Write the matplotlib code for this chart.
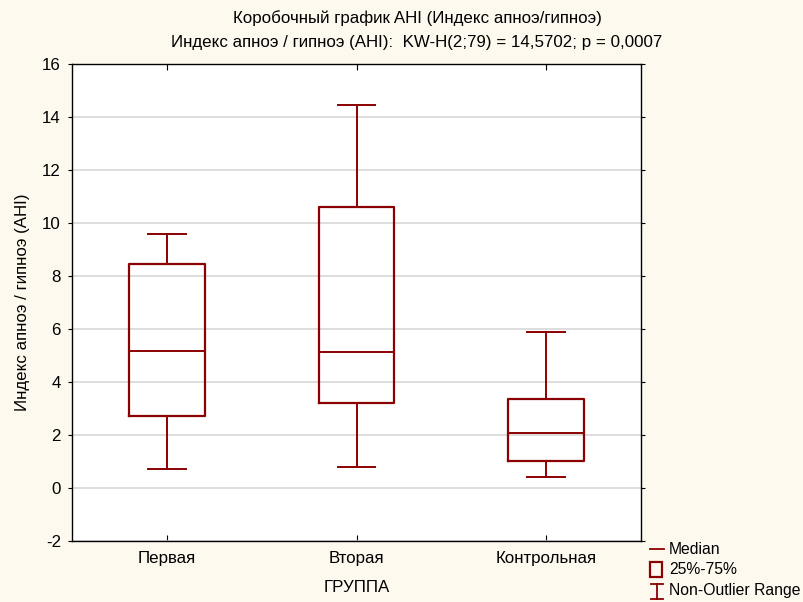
import matplotlib
matplotlib.use("Agg")
import matplotlib.pyplot as plt
from matplotlib.lines import Line2D
from matplotlib.patches import Rectangle

plt.rcParams['font.family'] = ['Liberation Sans', 'DejaVu Sans']

categories = ["Первая", "Вторая", "Контрольная"]
medians = [5.18, 5.12, 2.08]
q1 = [2.72, 3.20, 1.02]
q3 = [8.45, 10.62, 3.36]
whisker_low = [0.70, 0.79, 0.40]
whisker_high = [9.58, 14.45, 5.88]
yticks = [-2, 0, 2, 4, 6, 8, 10, 12, 14, 16]

title1 = "Коробочный график AHI (Индекс апноэ/гипноэ)"
title2 = "Индекс апноэ / гипноэ (AHI):  KW-H(2;79) = 14,5702; p = 0,0007"

RED = "#8B0000"
BG = "#FDF9EF"
FS = 12.2

W, H = 804, 602
fig = plt.figure(figsize=(W / 100, H / 100), dpi=100, facecolor=BG)
ax = fig.add_axes([72 / W, 1 - 541 / H, (641 - 72) / W, (541 - 64) / H])
ax.set_facecolor("white")

stats = []
for i, c in enumerate(categories):
    stats.append(dict(label=c, med=medians[i], q1=q1[i], q3=q3[i],
                      whislo=whisker_low[i], whishi=whisker_high[i], fliers=[]))

lw = 1.4
ax.bxp(stats, positions=[1, 2, 3], widths=0.4, capwidths=0.2, showfliers=False,
       boxprops=dict(color=RED, linewidth=1.6),
       medianprops=dict(color=RED, linewidth=lw),
       whiskerprops=dict(color=RED, linewidth=lw),
       capprops=dict(color=RED, linewidth=lw))

ax.set_xlim(0.5, 3.5)
ax.set_ylim(-2, 16)
ax.set_yticks(yticks)
ax.set_yticklabels([str(t) for t in yticks], fontsize=FS)
ax.set_xticks([1, 2, 3])
ax.set_xticklabels(categories, fontsize=FS)
ax.yaxis.grid(True, color="#D8D8D8", linewidth=1.2)
ax.set_axisbelow(True)
ax.tick_params(axis='x', direction='in', top=True, bottom=True, length=4, width=0.8, pad=7)
ax.tick_params(axis='y', direction='out', left=True, right=True, length=3, width=0.8, pad=5)
for s in ax.spines.values():
    s.set_linewidth(1.0)
    s.set_color("black")

ax.set_ylabel("Индекс апноэ / гипноэ (AHI)", fontsize=FS, labelpad=9)
ax.set_xlabel("ГРУППА", fontsize=FS, labelpad=10)

fig.text(417 / W, 1 - 18 / H, title1, ha="center", va="center", fontsize=FS)
fig.text(417 / W, 1 - 43 / H, title2, ha="center", va="center", fontsize=FS)


def fx(x):
    return x / W


def fy(y):
    return 1 - y / H


fig.add_artist(Line2D([fx(650), fx(664)], [fy(549), fy(549)], color=RED, lw=1.3,
                      transform=fig.transFigure))
fig.add_artist(Rectangle((fx(650), fy(577)), 12 / W, 15 / H, fill=False,
                         edgecolor=RED, lw=1.6, transform=fig.transFigure))
fig.add_artist(Line2D([fx(651), fx(663)], [fy(584), fy(584)], color=RED, lw=1.3,
                      transform=fig.transFigure))
fig.add_artist(Line2D([fx(657), fx(657)], [fy(584), fy(599)], color=RED, lw=1.3,
                      transform=fig.transFigure))
fig.add_artist(Line2D([fx(651), fx(663)], [fy(599), fy(599)], color=RED, lw=1.3,
                      transform=fig.transFigure))
for y, t in [(549, "Median"), (570, "25%-75%"), (591, "Non-Outlier Range")]:
    fig.text(fx(669), fy(y), t, ha="left", va="center", fontsize=11.3)

fig.savefig("out.png", dpi=100, facecolor=BG)
